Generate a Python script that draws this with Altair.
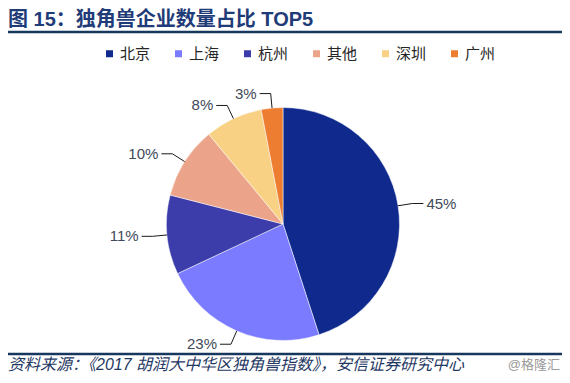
import altair as alt
import pandas as pd

# ---- data ----
cities = ["北京", "上海", "杭州", "其他", "深圳", "广州"]
shares = [45, 23, 11, 10, 8, 3]
colors = ["#0F2A8C", "#7B7BFF", "#3C3CAA", "#EBA389", "#F8D185", "#ED7D31"]

title_text = "图 15：独角兽企业数量占比 TOP5"
source_text = "资料来源：《2017 胡润大中华区独角兽指数》，安信证券研究中心"
mark_text = "@格隆汇"

df = pd.DataFrame({"city": cities, "value": shares, "order": list(range(len(cities)))})

W, H = 554, 367
CX, CY, R = 275, 216, 116.5
R2 = 131
HL = 11

FONT = "Liberation Sans, Noto Sans CJK SC"
NAVY = "#17375E"

base = alt.Chart(df)

pie = base.mark_arc(radius=R, stroke="white", strokeWidth=0.5).encode(
    theta=alt.Theta("value:Q", stack=True),
    order=alt.Order("order:Q"),
    color=alt.Color(
        "city:N",
        scale=alt.Scale(domain=cities, range=colors),
        sort=cities,
        legend=alt.Legend(
            orient="none",
            legendX=94,
            legendY=38,
            direction="horizontal",
            title=None,
            symbolType="square",
            symbolSize=49,
            symbolStrokeWidth=0,
            labelFontSize=15,
            labelFont=FONT,
            labelColor="#262626",
            labelOffset=3,
            columnPadding=20,
            padding=0,
        ),
    ),
    x=alt.value(CX),
    y=alt.value(CY),
)

geo = (
    base.transform_joinaggregate(total="sum(value)")
    .transform_window(cum="sum(value)", sort=[alt.SortField("order")], frame=[None, 0])
    .transform_calculate(
        mid="(datum.cum - datum.value/2)/datum.total*2*PI",
    )
    .transform_calculate(ux="sin(datum.mid)", uy="cos(datum.mid)")
    .transform_calculate(side="datum.ux >= 0 ? 1 : -1", label="datum.value + '%'")
)

lines = (
    geo.transform_calculate(pts="[0, 1, 2]")
    .transform_flatten(["pts"])
    .transform_calculate(rr=f"datum.pts == 0 ? {R} : {R2}")
    .transform_calculate(
        px=f"{CX} + datum.rr*datum.ux + (datum.pts == 2 ? datum.side*{HL} : 0)",
        py=f"{CY} - datum.rr*datum.uy",
    )
    .mark_line(color="#1a1a1a", strokeWidth=1)
    .encode(
        x=alt.X("px:Q", scale=None, axis=None),
        y=alt.Y("py:Q", scale=None, axis=None),
        detail="city:N",
        order="pts:Q",
    )
)


def label_layer(cond, align):
    return (
        geo.transform_filter(cond)
        .transform_calculate(
            px=f"{CX} + {R2}*datum.ux + datum.side*({HL}+3)",
            py=f"{CY} - {R2}*datum.uy",
        )
        .mark_text(align=align, baseline="middle", fontSize=15, font=FONT, color="#404A5A")
        .encode(
            x=alt.X("px:Q", scale=None, axis=None),
            y=alt.Y("py:Q", scale=None, axis=None),
            text="label:N",
        )
    )


lab_r = label_layer("datum.side > 0", "left")
lab_l = label_layer("datum.side < 0", "right")

one = alt.Chart(alt.Data(values=[{"k": 1}]))

title = one.mark_text(
    align="left", baseline="middle", fontSize=20, fontWeight="bold", font=FONT, color="#1F3C78"
).encode(x=alt.value(0), y=alt.value(12), text=alt.value(title_text))

rule_top = one.mark_rule(color=NAVY, strokeWidth=2.5).encode(
    x=alt.value(0), x2=alt.value(W), y=alt.value(24)
)
rule_bot = one.mark_rule(color=NAVY, strokeWidth=2.5).encode(
    x=alt.value(0), x2=alt.value(W), y=alt.value(346)
)

source = one.mark_text(
    align="left", baseline="middle", fontSize=16, fontStyle="italic", font=FONT, color="#1F3864"
).encode(x=alt.value(0), y=alt.value(357), text=alt.value(source_text))

wm = one.mark_text(
    align="right", baseline="middle", fontSize=13, font=FONT, color="#9a9a9a"
).encode(x=alt.value(W - 2), y=alt.value(357), text=alt.value(mark_text))

chart = (
    alt.layer(pie, lines, lab_r, lab_l, title, rule_top, rule_bot, source, wm)
    .properties(width=W, height=H, autosize=alt.AutoSizeParams(type="none"), padding=0)
    .configure_view(stroke=None)
)

chart.save("out.html", embed_options={"renderer": "svg", "actions": False})
